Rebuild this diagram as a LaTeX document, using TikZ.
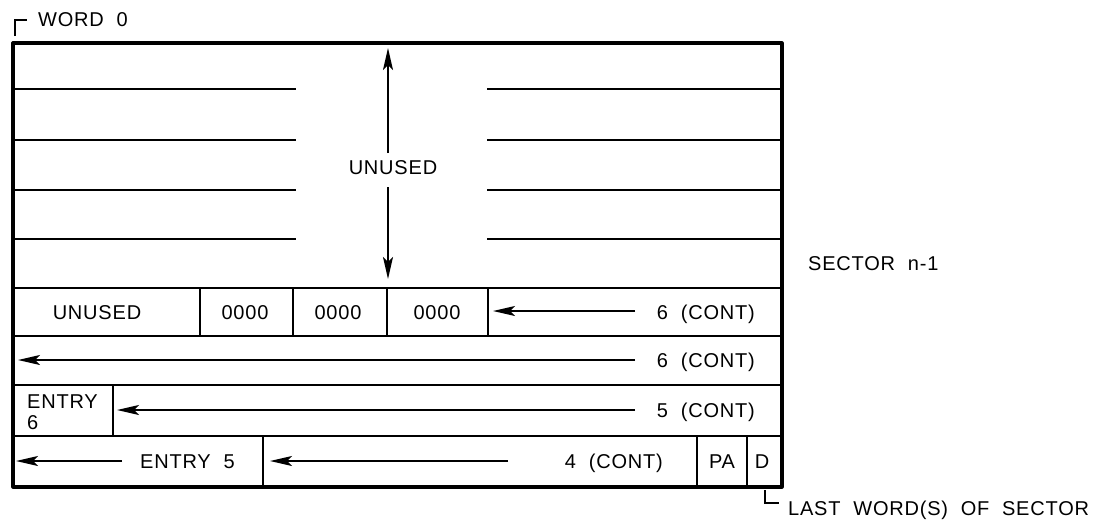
\documentclass[tikz,border=0pt]{standalone}
\usepackage{fontspec}
\setmainfont{Liberation Sans}[LetterSpace=4,WordSpace=2]
\usetikzlibrary{arrows.meta}
\begin{document}
\begin{tikzpicture}[x=1pt,y=-1pt,
  frame/.style={line width=3.2pt,line join=round},
  rule/.style={line width=2.2pt},
  ptr/.style={line width=1.8pt,-{Stealth[length=22pt,width=10pt,inset=5pt]}},
  lbl/.style={font=\fontsize{20}{22}\selectfont,inner sep=0pt},
  tag/.style={line width=1.8pt}]
\useasboundingbox (0,0) rectangle (1098,523);

% outer frame of the sector
\draw[frame] (13,43) rectangle (782,487);

% row boundaries
\foreach \y in {288,336,385,436} \draw[rule] (13,\y) -- (782,\y);

% ruled lines of the unused area, broken in the middle
\foreach \y in {89,140,190,239} {
  \draw[rule] (13,\y) -- (296,\y);
  \draw[rule] (487,\y) -- (782,\y);
}

% cell dividers
\draw[rule] (200,288) -- (200,336);
\draw[rule] (293,288) -- (293,336);
\draw[rule] (387,288) -- (387,336);
\draw[rule] (488,288) -- (488,336);
\draw[rule] (113,385) -- (113,436);
\draw[rule] (263,436) -- (263,487);
\draw[rule] (697,436) -- (697,487);
\draw[rule] (747,436) -- (747,487);

% unused area label and its extent arrows
\node[lbl,anchor=base] (unused) at (393,174) {UNUSED};
\coordinate (uptail) at (388,153);
\coordinate (uptip) at (388,48);
\coordinate (dntail) at (388,187);
\coordinate (dntip) at (388,279);
\draw[ptr] (uptail) -- (uptip);
\draw[ptr] (dntail) -- (dntip);

% first word row
\node[lbl,anchor=base] (rowunused) at (97,319) {UNUSED};
\node[lbl,anchor=base] (zeroa) at (245,319) {0000};
\node[lbl,anchor=base] (zerob) at (338,319) {0000};
\node[lbl,anchor=base] (zeroc) at (437,319) {0000};
\node[lbl,anchor=base east] (contsixa) at (755,319) {6 (CONT)};
\coordinate (tailsixa) at (635,311);
\coordinate (tipsixa) at (493,311);
\draw[ptr] (tailsixa) -- (tipsixa);

% second row
\node[lbl,anchor=base east] (contsixb) at (755,367) {6 (CONT)};
\coordinate (tailsixb) at (635,360);
\coordinate (tipsixb) at (18,360);
\draw[ptr] (tailsixb) -- (tipsixb);

% third row
\node[lbl,anchor=base west] (entrysix) at (27,408) {ENTRY};
\node[lbl,anchor=base west] (entrysixn) at (27,429) {6};
\node[lbl,anchor=base east] (contfive) at (755,417) {5 (CONT)};
\coordinate (tailfive) at (635,410);
\coordinate (tipfive) at (117,410);
\draw[ptr] (tailfive) -- (tipfive);

% last row
\node[lbl,anchor=base west] (entryfive) at (140,468) {ENTRY 5};
\coordinate (tailentry) at (122,461);
\coordinate (tipentry) at (16,461);
\draw[ptr] (tailentry) -- (tipentry);
\node[lbl,anchor=base east] (contfour) at (663,468) {4 (CONT)};
\coordinate (tailfour) at (508,461);
\coordinate (tipfour) at (270,461);
\draw[ptr] (tailfour) -- (tipfour);
\node[lbl,anchor=base] (pa) at (722,468) {PA};
\node[lbl,anchor=base] (dflag) at (762,468) {D};

% outside labels
\node[lbl,anchor=base west] (wordzero) at (38,26) {WORD 0};
\coordinate (wzlow) at (15,36);
\coordinate (wzcorner) at (15,20);
\coordinate (wzend) at (27,20);
\draw[tag] (wzlow) -- (wzcorner) -- (wzend);

\node[lbl,anchor=base west] (sector) at (808,270) {SECTOR n-1};

\node[lbl,anchor=base west] (lastword) at (788,515) {LAST WORD(S) OF SECTOR};
\coordinate (lwtop) at (765,490);
\coordinate (lwcorner) at (765,503);
\coordinate (lwend) at (779,503);
\draw[tag] (lwtop) -- (lwcorner) -- (lwend);
\end{tikzpicture}
\end{document}
